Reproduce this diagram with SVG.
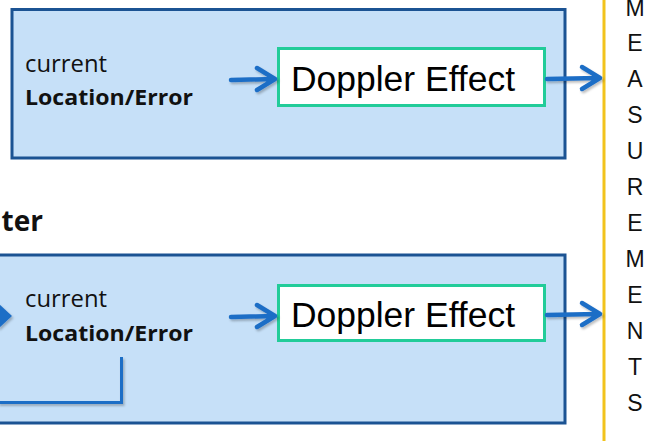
<svg xmlns="http://www.w3.org/2000/svg" width="664" height="441" viewBox="0 0 664 441">
<defs>
<style>
.panel{fill:#c6e0f8;stroke:#1b5393;stroke-width:3}
.dop{fill:#ffffff;stroke:#22cc99;stroke-width:3}
.dtxt{font-family:"Liberation Sans",Arial,sans-serif;font-size:35px;fill:#000}
.cur{font-family:"Open Sans","Noto Sans",sans-serif;font-size:23px;fill:#111}
.loc{font-family:"Open Sans","Noto Sans",sans-serif;font-size:22px;font-weight:bold;fill:#111}
.meas{font-family:"Liberation Sans",Arial,sans-serif;font-size:23px;fill:#111;text-anchor:middle}
.conn{fill:none;stroke:#1f6ec6;stroke-width:4.5;stroke-linecap:round;stroke-linejoin:round}
.fb{fill:none;stroke:#1f6ec6;stroke-width:3}
</style>
<filter id="sh" x="-10%" y="-30%" width="130%" height="180%">
<feDropShadow dx="1.5" dy="2" stdDeviation="1.2" flood-color="#000" flood-opacity="0.25"/>
</filter>
</defs>

<g id="panel-top">
<rect class="panel" x="12" y="9.5" width="553" height="148.5"/>
<text class="cur" x="25" y="72" textLength="82" lengthAdjust="spacingAndGlyphs">current</text>
<text class="loc" x="25" y="105" textLength="168" lengthAdjust="spacingAndGlyphs">Location/Error</text>
</g>
<g id="doppler-top">
<rect class="dop" x="278.5" y="48.5" width="266" height="57"/>
<text class="dtxt" x="291" y="91" textLength="224" lengthAdjust="spacingAndGlyphs">Doppler Effect</text>
</g>

<g id="title">
<text x="43" y="231" text-anchor="end" style="font-family:'Open Sans','Noto Sans',sans-serif;font-size:28px;font-weight:bold;fill:#111">ter</text>
</g>

<g id="panel-bottom">
<rect class="panel" x="-10" y="255" width="575" height="168"/>
<text class="cur" x="25" y="307" textLength="82" lengthAdjust="spacingAndGlyphs">current</text>
<text class="loc" x="25" y="341" textLength="168" lengthAdjust="spacingAndGlyphs">Location/Error</text>
</g>
<g id="doppler-bottom">
<rect class="dop" x="278.5" y="285.5" width="266" height="55"/>
<text class="dtxt" x="291" y="327" textLength="224" lengthAdjust="spacingAndGlyphs">Doppler Effect</text>
</g>

<g id="measurements">
<line x1="604" y1="0" x2="604" y2="441" stroke="#f2c31c" stroke-width="3"/>
<text class="meas" x="635" y="16">M</text>
<text class="meas" x="635" y="51">E</text>
<text class="meas" x="635" y="87">A</text>
<text class="meas" x="635" y="123">S</text>
<text class="meas" x="635" y="159">U</text>
<text class="meas" x="635" y="195">R</text>
<text class="meas" x="635" y="231">E</text>
<text class="meas" x="635" y="267">M</text>
<text class="meas" x="635" y="303">E</text>
<text class="meas" x="635" y="339">N</text>
<text class="meas" x="635" y="375">T</text>
<text class="meas" x="635" y="411">S</text>
</g>

<g id="connectors" filter="url(#sh)">
<path class="conn" d="M231 80 L274 79 M257 68 L275 79 L257 90"/>
<path class="conn" d="M547 79 L598 78 M582 67 L600 78 L582 89"/>
<path class="conn" d="M231 317 L274 316 M257 305 L275 316 L257 327"/>
<path class="conn" d="M547 315 L598 314 M582 303 L600 314 L582 325"/>
<path d="M-2 303 L12 316 L-2 329 Z" fill="#1f6ec6"/>
<path class="fb" d="M121.5 357 V402.5 H-2"/>
</g>
</svg>
